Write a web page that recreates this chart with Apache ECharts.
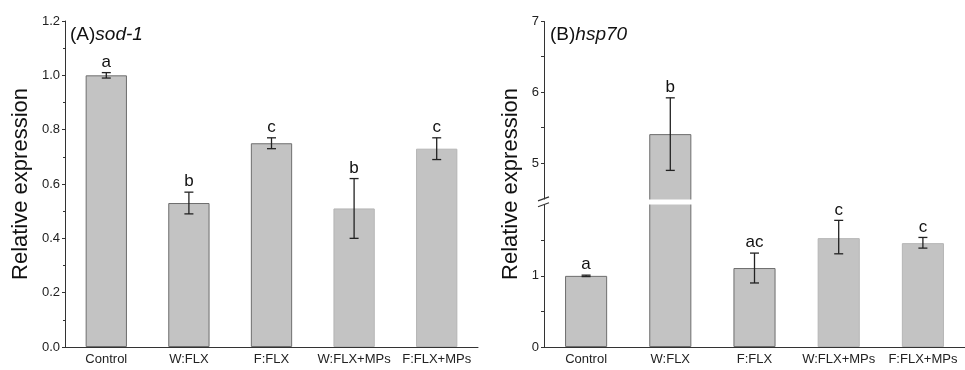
<!DOCTYPE html>
<html>
<head>
    <meta charset="utf-8">
    <script src="https://cdn.jsdelivr.net/npm/echarts@6/dist/echarts.min.js"></script>
    <style>
        body { margin: 0; background: #fff; }
    </style>
</head>
<body>
    <div id="main" style="width: 965px;height:370px;"></div>
    <script type="text/javascript">
        // groups shared by both panels
        var categories = ['Control', 'W:FLX', 'F:FLX', 'W:FLX+MPs', 'F:FLX+MPs'];

        // (A) sod-1
        var sodMean = [1.00, 0.53, 0.75, 0.51, 0.73];
        var sodLow = [0.99, 0.49, 0.73, 0.40, 0.69];
        var sodHigh = [1.01, 0.57, 0.77, 0.62, 0.77];
        var sodLetters = ['a', 'b', 'c', 'b', 'c'];

        // (B) hsp70
        var hspMean = [1.00, 5.41, 1.11, 1.53, 1.46];
        var hspLow = [0.99, 4.90, 0.90, 1.31, 1.39];
        var hspHigh = [1.01, 5.92, 1.32, 1.78, 1.54];
        var hspLetters = ['a', 'b', 'ac', 'c', 'c'];

        // right axis is broken between 2 and 4.5
        var hspLabels = [0, 1, 5, 6, 7];
        var hspTicks = [0, 0.5, 1, 1.5, 5, 5.5, 6, 6.5, 7];

        var barBorders = ['#6e6e6e', '#6e6e6e', '#6e6e6e', '#b5b5b5', '#b5b5b5'];

        function barData(values) {
            return values.map(function (v, i) {
                return {value: v, itemStyle: {borderColor: barBorders[i]}};
            });
        }

        function errData(low, high) {
            return low.map(function (v, i) { return [i, v, high[i]]; });
        }

        function makeErrRender(letters) {
            return function (params, api) {
                var x = api.value(0);
                var lo = api.coord([x, api.value(1)]);
                var hi = api.coord([x, api.value(2)]);
                var w = 4.5;
                var st = {stroke: '#222', lineWidth: 1.3};
                return {
                    type: 'group',
                    children: [
                        {type: 'line', shape: {x1: hi[0], y1: hi[1], x2: lo[0], y2: lo[1]}, style: st},
                        {type: 'line', shape: {x1: hi[0] - w, y1: hi[1], x2: hi[0] + w, y2: hi[1]}, style: st},
                        {type: 'line', shape: {x1: lo[0] - w, y1: lo[1], x2: lo[0] + w, y2: lo[1]}, style: st},
                        {type: 'text', style: {
                            text: letters[params.dataIndex], x: hi[0], y: hi[1] - 2,
                            textAlign: 'center', textVerticalAlign: 'bottom',
                            font: '17px Arial', fill: '#111'
                        }}
                    ]
                };
            };
        }

        var axisCommon = {
            axisLine: {show: true, lineStyle: {color: '#333', width: 1}},
            axisTick: {show: true, inside: false, length: 3, lineStyle: {color: '#333'}},
            minorTick: {show: true, splitNumber: 2, length: 2, lineStyle: {color: '#333'}},
            splitLine: {show: false},
            axisLabel: {color: '#222', fontSize: 13, fontFamily: 'Arial', margin: 5},
            nameLocation: 'middle',
            nameTextStyle: {fontSize: 22, fontFamily: 'Arial', color: '#111'}
        };

        var titleRich = {
            n: {fontSize: 19, fontFamily: 'Arial', fontWeight: 'normal', color: '#111'},
            i: {fontSize: 19, fontFamily: 'Arial', fontWeight: 'normal', fontStyle: 'italic', color: '#111'}
        };

        option = {
            animation: false,
            title: [
                {
                    text: '{n|(A)}{i|sod-1}',
                    left: 65, top: 20,
                    textStyle: {fontWeight: 'normal', rich: titleRich}
                },
                {
                    text: '{n|(B)}{i|hsp70}',
                    left: 545, top: 20,
                    textStyle: {fontWeight: 'normal', rich: titleRich}
                }
            ],
            grid: [
                {left: 65, top: 21, width: 413, height: 326},
                {left: 544, top: 21, width: 424, height: 326}
            ],
            xAxis: [0, 1].map(function (g) {
                return {
                    type: 'category',
                    gridIndex: g,
                    data: categories,
                    axisLine: {lineStyle: {color: '#333', width: 1}},
                    axisTick: {alignWithLabel: true, length: 4, lineStyle: {color: '#333'}},
                    axisLabel: {color: '#222', fontSize: 13, fontFamily: 'Arial', margin: 6, interval: 0}
                };
            }),
            yAxis: [
                Object.assign({}, axisCommon, {
                    type: 'value', gridIndex: 0,
                    min: 0, max: 1.2, interval: 0.2,
                    name: 'Relative expression', nameGap: 33,
                    axisLabel: Object.assign({}, axisCommon.axisLabel, {
                        formatter: function (v) { return v.toFixed(1); }
                    })
                }),
                Object.assign({}, axisCommon, {
                    type: 'value', gridIndex: 1,
                    min: 0, max: 7, interval: 1,
                    z: 10,
                    name: 'Relative expression', nameGap: 22,
                    breaks: [{start: 2, end: 4.5, gap: '1.8%'}],
                    breakArea: {
                        show: true,
                        expandOnClick: false,
                        zigzagAmplitude: 0,
                        itemStyle: {color: '#fff', borderColor: '#fff', borderWidth: 0, opacity: 1}
                    },
                    minorTick: {show: false},
                    axisTick: Object.assign({}, axisCommon.axisTick, {customValues: hspTicks}),
                    axisLabel: Object.assign({}, axisCommon.axisLabel, {customValues: hspLabels})
                })
            ],
            series: [
                {
                    type: 'bar', xAxisIndex: 0, yAxisIndex: 0,
                    barWidth: '50%',
                    itemStyle: {color: '#c3c3c3', borderWidth: 1},
                    data: barData(sodMean)
                },
                {
                    type: 'custom', xAxisIndex: 0, yAxisIndex: 0, z: 5,
                    renderItem: makeErrRender(sodLetters),
                    data: errData(sodLow, sodHigh)
                },
                {
                    type: 'bar', xAxisIndex: 1, yAxisIndex: 1,
                    barWidth: '50%',
                    itemStyle: {color: '#c3c3c3', borderWidth: 1},
                    data: barData(hspMean)
                },
                {
                    type: 'custom', xAxisIndex: 1, yAxisIndex: 1, z: 5,
                    renderItem: makeErrRender(hspLetters),
                    data: errData(hspLow, hspHigh)
                }
            ]
        };

        var myChart = echarts.init(document.getElementById('main'));
        myChart.setOption(option);

        // the "//" marks where the right axis is broken
        var pLow = myChart.convertToPixel({xAxisIndex: 1, yAxisIndex: 1}, [0, 2]);
        var pHigh = myChart.convertToPixel({xAxisIndex: 1, yAxisIndex: 1}, [0, 4.5]);
        var ax = 544;
        myChart.setOption({
            graphic: [
                {type: 'line', z: 100, shape: {x1: ax - 6, y1: pLow[1] + 2, x2: ax + 5, y2: pLow[1] - 2}, style: {stroke: '#333', lineWidth: 1.2}},
                {type: 'line', z: 100, shape: {x1: ax - 6, y1: pHigh[1] + 2, x2: ax + 5, y2: pHigh[1] - 2}, style: {stroke: '#333', lineWidth: 1.2}}
            ]
        });
    </script>
</body>
</html>
